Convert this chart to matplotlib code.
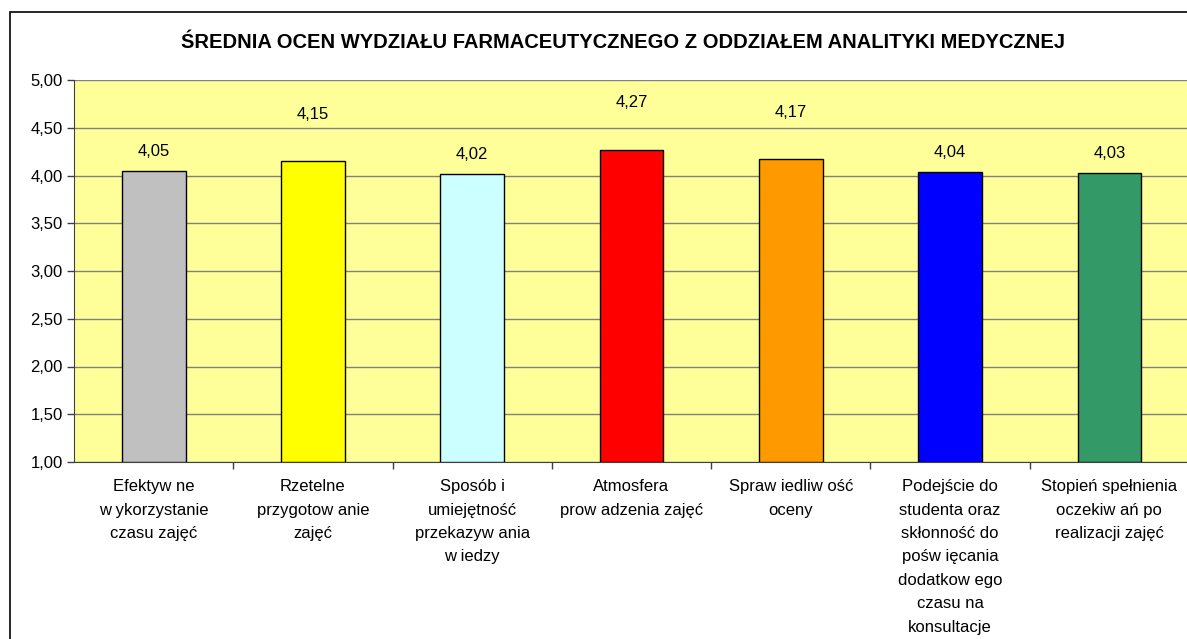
import matplotlib.pyplot as plt
from matplotlib.patches import Rectangle

plt.rcParams['font.family'] = ['Liberation Sans', 'DejaVu Sans']

kategorie = [
    "Efektyw ne\nw ykorzystanie\nczasu zajęć",
    "Rzetelne\nprzygotow anie\nzajęć",
    "Sposób i\numiejętność\nprzekazyw ania\nw iedzy",
    "Atmosfera\nprow adzenia zajęć",
    "Spraw iedliw ość\noceny",
    "Podejście do\nstudenta oraz\nskłonność do\npośw ięcania\ndodatkow ego\nczasu na\nkonsultacje",
    "Stopień spełnienia\noczekiw ań po\nrealizacji zajęć",
]
srednie = [4.05, 4.15, 4.02, 4.27, 4.17, 4.04, 4.03]
kolory = ["#C0C0C0", "#FFFF00", "#CCFFFF", "#FF0000", "#FF9900", "#0000FF", "#339966"]
y_ticks = [1.0, 1.5, 2.0, 2.5, 3.0, 3.5, 4.0, 4.5, 5.0]

W, H = 1187, 639
fig = plt.figure(figsize=(W / 100, H / 100), dpi=100)

# ramka wykresu (widoczna tylko lewa i górna krawędź)
fig.patches.append(Rectangle((10 / W, -0.1), 1.2, (H - 12) / H + 0.1,
                             transform=fig.transFigure, fill=False,
                             edgecolor="black", linewidth=1.2))

ax = fig.add_axes([74 / W, 1 - 462 / H, 1115 / W, 382 / H])
ax.set_facecolor("#FFFF99")

x = list(range(len(srednie)))
ax.bar(x, [s - 1 for s in srednie], bottom=1, width=0.4, color=kolory,
       edgecolor="black", linewidth=1, zorder=3)

# etykiety wartości - Excel podnosi je wyżej przy wyższych słupkach
for xi, s in zip(x, srednie):
    off = 0.2 if s < 4.1 else 0.49
    ax.text(xi, s + off, f"{s:.2f}".replace(".", ","), ha="center",
            va="center", fontsize=12)

ax.set_xlim(-0.5, len(srednie) - 0.5)
ax.set_ylim(1, 5)
ax.set_yticks(y_ticks)
ax.set_yticklabels([f"{v:.2f}".replace(".", ",") for v in y_ticks], fontsize=12)
ax.yaxis.grid(True, color="#808080", linewidth=1, zorder=1)

ax.set_xticks([i + 0.5 for i in x[:-1]])
ax.set_xticklabels([])
ax.tick_params(axis="x", length=5, width=1, color="#404040")
ax.tick_params(axis="y", length=5, width=1, color="#404040", pad=3)

for xi, lab in zip(x, kategorie):
    ax.text(xi, 0.82, lab, ha="center", va="top", fontsize=12,
            linespacing=1.7)

for side in ["top", "right"]:
    ax.spines[side].set_visible(False)
ax.spines["left"].set_color("#404040")
ax.spines["bottom"].set_color("#404040")

fig.text(623 / W, 1 - 42 / H,
         "ŚREDNIA OCEN WYDZIAŁU FARMACEUTYCZNEGO Z ODDZIAŁEM ANALITYKI MEDYCZNEJ",
         ha="center", va="center", fontsize=14.5, fontweight="bold")

fig.savefig("out.png", dpi=100)
